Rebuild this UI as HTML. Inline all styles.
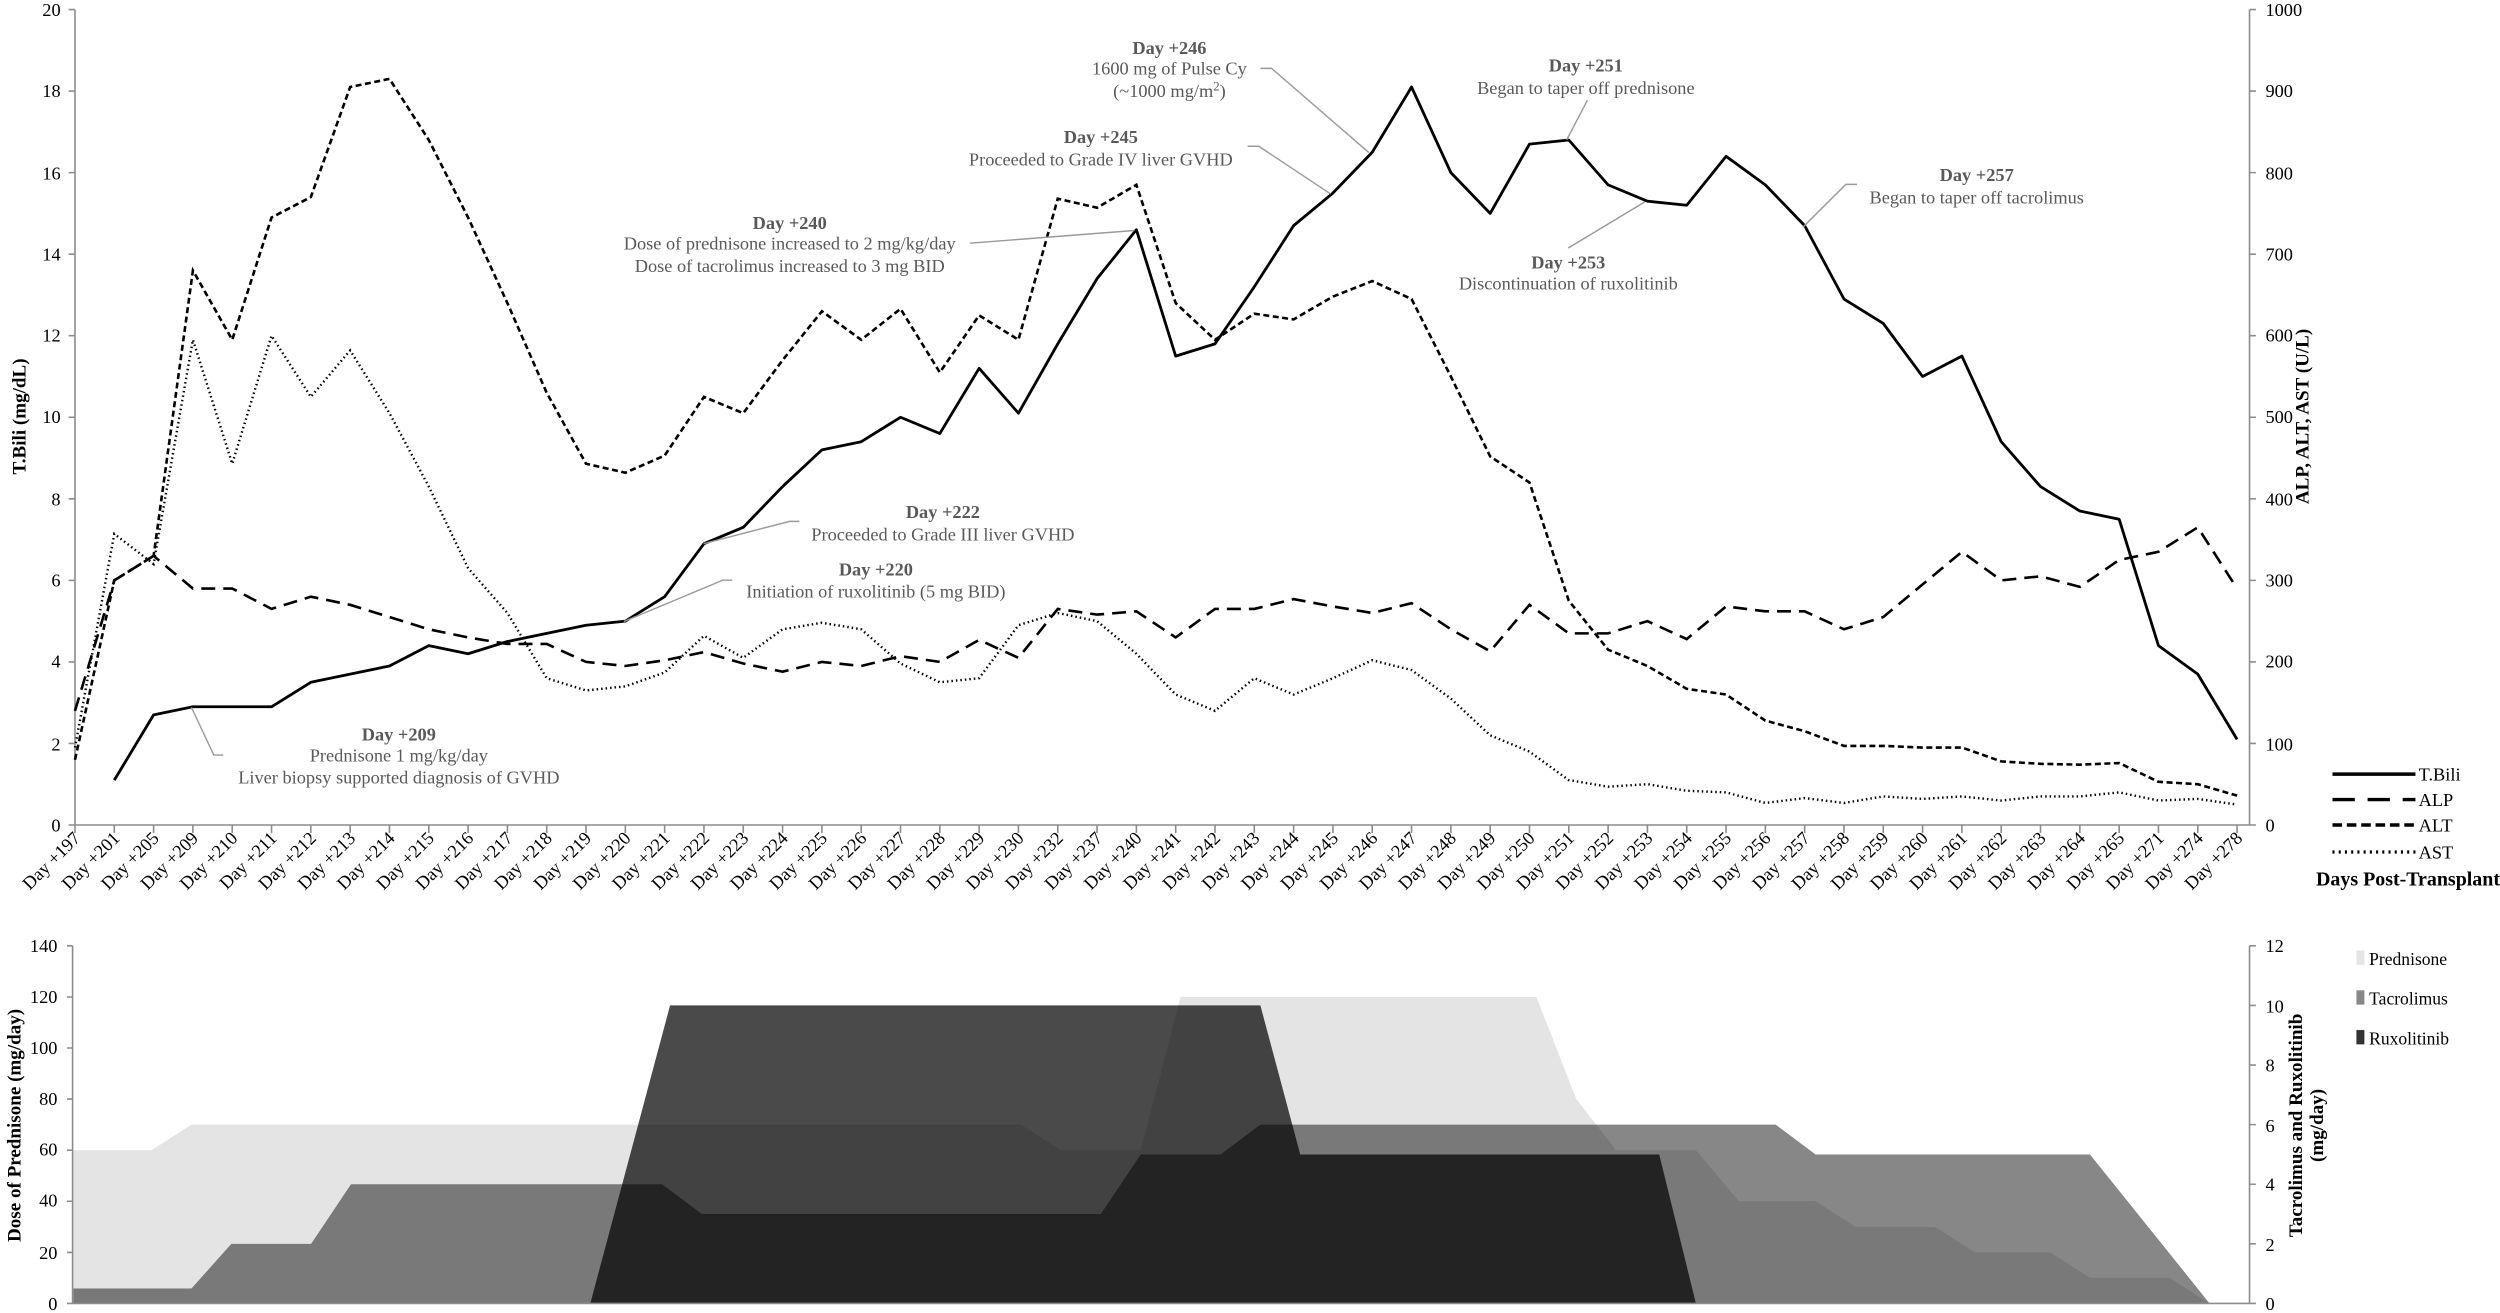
<!DOCTYPE html>
<html><head><meta charset="utf-8"><style>
html,body{margin:0;padding:0;background:#fff;}
svg{display:block;}
text{font-family:"Liberation Serif",serif;}
.t{font-size:11.5px;fill:#000;}
.a{font-size:11.5px;fill:#595959;}
.ab{font-size:11.5px;fill:#595959;font-weight:bold;}
.xl text{font-size:11.5px;fill:#000;text-anchor:end;}
</style></head><body>
<svg width="2500" height="1313" viewBox="0 0 1567 826" preserveAspectRatio="none" xmlns="http://www.w3.org/2000/svg">
<rect width="1567" height="826" fill="#fff"/>
<polygon fill="#e4e4e4" points="46,820 46,723.6 95,723.6 120,707.5 640,707.5 665,723.6 715,723.6 740,627.2 963,627.2 988,691.4 1013,723.6 1063,723.6 1090,755.7 1138,755.7 1163,771.8 1213,771.8 1238,787.9 1285,787.9 1310,803.9 1360,803.9 1385,820"/>
<polygon fill="#000" fill-opacity="0.47" points="46,820 46,810.6 120,810.6 145,782.5 195,782.5 220,745 415,745 440,763.75 690,763.75 715,726.25 765,726.25 790,707.5 1113,707.5 1138,726.25 1310,726.25 1385,820"/>
<polygon fill="#000" fill-opacity="0.71" points="370,820 420,632.5 790,632.5 815,726.25 1040,726.25 1063,820"/>
<g stroke="#8c8c8c" stroke-width="1" fill="none">
<path d="M47,6V519H1410M1410,6V519"/>
<path d="M43,519H47M43,467.7H47M43,416.4H47M43,365.1H47M43,313.8H47M43,262.5H47M43,211.2H47M43,159.9H47M43,108.6H47M43,57.3H47M43,6H47"/>
<path d="M1410,519H1414M1410,467.7H1414M1410,416.4H1414M1410,365.1H1414M1410,313.8H1414M1410,262.5H1414M1410,211.2H1414M1410,159.9H1414M1410,108.6H1414M1410,57.3H1414M1410,6H1414"/>
<line x1="46.5" y1="521.5" x2="1404" y2="521.5" stroke-width="5" stroke-dasharray="1 23.64"/>
<path d="M45.5,595V820H1410M1410,595V820"/>
<path d="M42,820H45.5M42,787.9H45.5M42,755.7H45.5M42,723.6H45.5M42,691.4H45.5M42,659.3H45.5M42,627.2H45.5M42,595H45.5"/>
<path d="M1410,820H1414M1410,782.5H1414M1410,745H1414M1410,707.5H1414M1410,670H1414M1410,632.5H1414M1410,595H1414"/>
</g>
<g fill="none" stroke="#000">
<polyline vector-effect="non-scaling-stroke" transform="translate(47,519) scale(24.64,-0.513)" stroke-width="2.6" stroke-dasharray="14 8" points="0,140 1,300 2,330 3,290 4,290 5,265 6,280 7,270 8,255 9,240 10,230 11,222 12,222 13,200 14,195 15,202 16,212 17,198 18,188 19,200 20,195 21,207 22,200 23,227 24,205 25,265 26,258 27,262 28,230 29,265 30,265 31,277 32,268 33,260 34,272 35,240 36,213 37,270 38,235 39,235 40,250 41,228 42,268 43,262 44,262 45,240 46,255 47,295 48,335 49,300 50,305 51,292 52,325 53,335 54,365 55,290"/>
<polyline vector-effect="non-scaling-stroke" transform="translate(47,519) scale(24.64,-0.513)" stroke-width="2.6" stroke-dasharray="6 3.5" points="0,80 1,300 2,330 3,680 4,595 5,745 6,770 7,905 8,915 9,840 10,745 11,640 12,530 13,443 14,432 15,453 16,525 17,505 18,570 19,630 20,595 21,633 22,555 23,625 24,595 25,768 26,757 27,785 28,640 29,595 30,627 31,620 32,648 33,667 34,645 35,550 36,452 37,420 38,275 39,215 40,195 41,167 42,160 43,128 44,115 45,97 46,97 47,95 48,95 49,78 50,75 51,74 52,76 53,53 54,50 55,36"/>
<polyline vector-effect="non-scaling-stroke" transform="translate(47,519) scale(24.64,-0.513)" stroke-width="2.4" stroke-dasharray="1.5 3" points="0,95 1,357 2,320 3,595 4,443 5,600 6,525 7,582 8,505 9,415 10,315 11,260 12,180 13,165 14,170 15,187 16,232 17,205 18,240 19,248 20,240 21,198 22,175 23,180 24,245 25,260 26,250 27,210 28,160 29,140 30,180 31,160 32,180 33,202 34,190 35,155 36,110 37,90 38,55 39,47 40,50 41,42 42,40 43,27 44,33 45,27 46,35 47,32 48,35 49,30 50,35 51,35 52,40 53,30 54,32 55,25"/>
<polyline vector-effect="non-scaling-stroke" transform="translate(47,519) scale(24.64,-25.65)" stroke-width="2.8" stroke-linejoin="round" points="1,1.1 2,2.7 3,2.9 4,2.9 5,2.9 6,3.5 7,3.7 8,3.9 9,4.4 10,4.2 11,4.5 12,4.7 13,4.9 14,5.0 15,5.6 16,6.9 17,7.3 18,8.3 19,9.2 20,9.4 21,10.0 22,9.6 23,11.2 24,10.1 25,11.8 26,13.4 27,14.6 28,11.5 29,11.8 30,13.2 31,14.7 32,15.5 33,16.5 34,18.1 35,16.0 36,15.0 37,16.7 38,16.8 39,15.7 40,15.3 41,15.2 42,16.4 43,15.7 44,14.7 45,12.9 46,12.3 47,11.0 48,11.5 49,9.4 50,8.3 51,7.7 52,7.5 53,4.4 54,3.7 55,2.1"/>
</g>
<g class="t" text-anchor="end">
<text x="38" y="10">20</text><text x="38" y="61">18</text><text x="38" y="113">16</text><text x="38" y="164">14</text><text x="38" y="215">12</text><text x="38" y="266">10</text><text x="38" y="318">8</text><text x="38" y="369">6</text><text x="38" y="420">4</text><text x="38" y="472">2</text><text x="38" y="523">0</text>
</g>
<g class="t" text-anchor="start">
<text x="1420" y="10">1000</text><text x="1420" y="61">900</text><text x="1420" y="113">800</text><text x="1420" y="164">700</text><text x="1420" y="215">600</text><text x="1420" y="266">500</text><text x="1420" y="318">400</text><text x="1420" y="369">300</text><text x="1420" y="420">200</text><text x="1420" y="472">100</text><text x="1420" y="523">0</text>
</g>
<text transform="translate(16,262) rotate(-90)" text-anchor="middle" font-size="12" font-weight="bold">T.Bili (mg/dL)</text>
<text transform="translate(1447,262) rotate(-90)" text-anchor="middle" font-size="12" font-weight="bold">ALP, ALT, AST (U/L)</text>
<text x="1567" y="557" text-anchor="end" font-size="12.5" font-weight="bold">Days Post-Transplant</text>
<g stroke="#000" stroke-width="2.2" fill="none">
<line x1="1462" y1="487" x2="1514" y2="487"/>
<line x1="1462" y1="503" x2="1514" y2="503" stroke-dasharray="14 8"/>
<line x1="1462" y1="519" x2="1514" y2="519" stroke-dasharray="6 3"/>
<line x1="1462" y1="536" x2="1514" y2="536" stroke-dasharray="1.3 2.6" stroke-width="2"/>
</g>
<g class="t"><text x="1516" y="491">T.Bili</text><text x="1516" y="507">ALP</text><text x="1516" y="523">ALT</text><text x="1516" y="540">AST</text></g>
<g class="xl" transform="translate(51,528)">
<text transform="translate(0,0) rotate(-45)">Day +197</text>
<text transform="translate(24.64,0) rotate(-45)">Day +201</text>
<text transform="translate(49.28,0) rotate(-45)">Day +205</text>
<text transform="translate(73.92,0) rotate(-45)">Day +209</text>
<text transform="translate(98.56,0) rotate(-45)">Day +210</text>
<text transform="translate(123.2,0) rotate(-45)">Day +211</text>
<text transform="translate(147.84,0) rotate(-45)">Day +212</text>
<text transform="translate(172.48,0) rotate(-45)">Day +213</text>
<text transform="translate(197.12,0) rotate(-45)">Day +214</text>
<text transform="translate(221.76,0) rotate(-45)">Day +215</text>
<text transform="translate(246.4,0) rotate(-45)">Day +216</text>
<text transform="translate(271.04,0) rotate(-45)">Day +217</text>
<text transform="translate(295.68,0) rotate(-45)">Day +218</text>
<text transform="translate(320.32,0) rotate(-45)">Day +219</text>
<text transform="translate(344.96,0) rotate(-45)">Day +220</text>
<text transform="translate(369.6,0) rotate(-45)">Day +221</text>
<text transform="translate(394.24,0) rotate(-45)">Day +222</text>
<text transform="translate(418.88,0) rotate(-45)">Day +223</text>
<text transform="translate(443.52,0) rotate(-45)">Day +224</text>
<text transform="translate(468.16,0) rotate(-45)">Day +225</text>
<text transform="translate(492.8,0) rotate(-45)">Day +226</text>
<text transform="translate(517.44,0) rotate(-45)">Day +227</text>
<text transform="translate(542.08,0) rotate(-45)">Day +228</text>
<text transform="translate(566.72,0) rotate(-45)">Day +229</text>
<text transform="translate(591.36,0) rotate(-45)">Day +230</text>
<text transform="translate(616,0) rotate(-45)">Day +232</text>
<text transform="translate(640.64,0) rotate(-45)">Day +237</text>
<text transform="translate(665.28,0) rotate(-45)">Day +240</text>
<text transform="translate(689.92,0) rotate(-45)">Day +241</text>
<text transform="translate(714.56,0) rotate(-45)">Day +242</text>
<text transform="translate(739.2,0) rotate(-45)">Day +243</text>
<text transform="translate(763.84,0) rotate(-45)">Day +244</text>
<text transform="translate(788.48,0) rotate(-45)">Day +245</text>
<text transform="translate(813.12,0) rotate(-45)">Day +246</text>
<text transform="translate(837.76,0) rotate(-45)">Day +247</text>
<text transform="translate(862.4,0) rotate(-45)">Day +248</text>
<text transform="translate(887.04,0) rotate(-45)">Day +249</text>
<text transform="translate(911.68,0) rotate(-45)">Day +250</text>
<text transform="translate(936.32,0) rotate(-45)">Day +251</text>
<text transform="translate(960.96,0) rotate(-45)">Day +252</text>
<text transform="translate(985.6,0) rotate(-45)">Day +253</text>
<text transform="translate(1010.24,0) rotate(-45)">Day +254</text>
<text transform="translate(1034.88,0) rotate(-45)">Day +255</text>
<text transform="translate(1059.52,0) rotate(-45)">Day +256</text>
<text transform="translate(1084.16,0) rotate(-45)">Day +257</text>
<text transform="translate(1108.8,0) rotate(-45)">Day +258</text>
<text transform="translate(1133.44,0) rotate(-45)">Day +259</text>
<text transform="translate(1158.08,0) rotate(-45)">Day +260</text>
<text transform="translate(1182.72,0) rotate(-45)">Day +261</text>
<text transform="translate(1207.36,0) rotate(-45)">Day +262</text>
<text transform="translate(1232,0) rotate(-45)">Day +263</text>
<text transform="translate(1256.64,0) rotate(-45)">Day +264</text>
<text transform="translate(1281.28,0) rotate(-45)">Day +265</text>
<text transform="translate(1305.92,0) rotate(-45)">Day +271</text>
<text transform="translate(1330.56,0) rotate(-45)">Day +274</text>
<text transform="translate(1355.2,0) rotate(-45)">Day +278</text>
</g>
<g stroke="#9a9a9a" stroke-width="0.9" fill="none">
<polyline points="140,475 134,475 120,445"/>
<polyline points="501,328 495,328 441,342"/>
<polyline points="459,365 453,365 391,391"/>
<polyline points="608,153 711,145"/>
<polyline points="782,92 789,92 834,122"/>
<polyline points="790,43 797,43 858,96"/>
<polyline points="995,63 982,88"/>
<polyline points="983,156 1031,127"/>
<polyline points="1164,116 1157,116 1130,143"/>
</g>
<g text-anchor="middle">
<text class="ab" x="250" y="466">Day +209</text>
<text class="a" x="250" y="479">Prednisone 1 mg/kg/day</text>
<text class="a" x="250" y="493">Liver biopsy supported diagnosis of GVHD</text>
<text class="ab" x="591" y="326">Day +222</text>
<text class="a" x="591" y="340">Proceeded to Grade III liver GVHD</text>
<text class="ab" x="549" y="362">Day +220</text>
<text class="a" x="549" y="376">Initiation of ruxolitinib (5 mg BID)</text>
<text class="ab" x="495" y="144">Day +240</text>
<text class="a" x="495" y="157">Dose of prednisone increased to 2 mg/kg/day</text>
<text class="a" x="495" y="171">Dose of tacrolimus increased to 3 mg BID</text>
<text class="ab" x="690" y="90">Day +245</text>
<text class="a" x="690" y="104">Proceeded to Grade IV liver GVHD</text>
<text class="ab" x="733" y="34">Day +246</text>
<text class="a" x="733" y="47">1600 mg of Pulse Cy</text>
<text class="a" x="733" y="61">(~1000 mg/m<tspan font-size="8" dy="-4">2</tspan><tspan dy="4">)</tspan></text>
<text class="ab" x="994" y="45">Day +251</text>
<text class="a" x="994" y="59">Began to taper off prednisone</text>
<text class="ab" x="983" y="169">Day +253</text>
<text class="a" x="983" y="182">Discontinuation of ruxolitinib</text>
<text class="ab" x="1239" y="114">Day +257</text>
<text class="a" x="1239" y="128">Began to taper off tacrolimus</text>
</g>
<g class="t" text-anchor="end">
<text x="36" y="599">140</text><text x="36" y="631">120</text><text x="36" y="663">100</text><text x="36" y="695">80</text><text x="36" y="727">60</text><text x="36" y="759">40</text><text x="36" y="792">20</text><text x="36" y="824">0</text>
</g>
<g class="t" text-anchor="start">
<text x="1420" y="599">12</text><text x="1420" y="637">10</text><text x="1420" y="674">8</text><text x="1420" y="712">6</text><text x="1420" y="749">4</text><text x="1420" y="787">2</text><text x="1420" y="824">0</text>
</g>
<text transform="translate(13,708) rotate(-90)" text-anchor="middle" font-size="12" font-weight="bold">Dose of Prednisone (mg/day)</text>
<text transform="translate(1443,708) rotate(-90)" text-anchor="middle" font-size="12" font-weight="bold">Tacrolimus and Ruxolitinib</text>
<text transform="translate(1456,708) rotate(-90)" text-anchor="middle" font-size="12" font-weight="bold">(mg/day)</text>
<rect x="1477" y="598" width="5" height="9" fill="#e4e4e4"/>
<rect x="1477" y="623" width="5" height="9" fill="#888"/>
<rect x="1477" y="648" width="5" height="9" fill="#333"/>
<g font-size="11" fill="#000"><text x="1485" y="607">Prednisone</text><text x="1485" y="632">Tacrolimus</text><text x="1485" y="657">Ruxolitinib</text></g>
</svg>
</body></html>
